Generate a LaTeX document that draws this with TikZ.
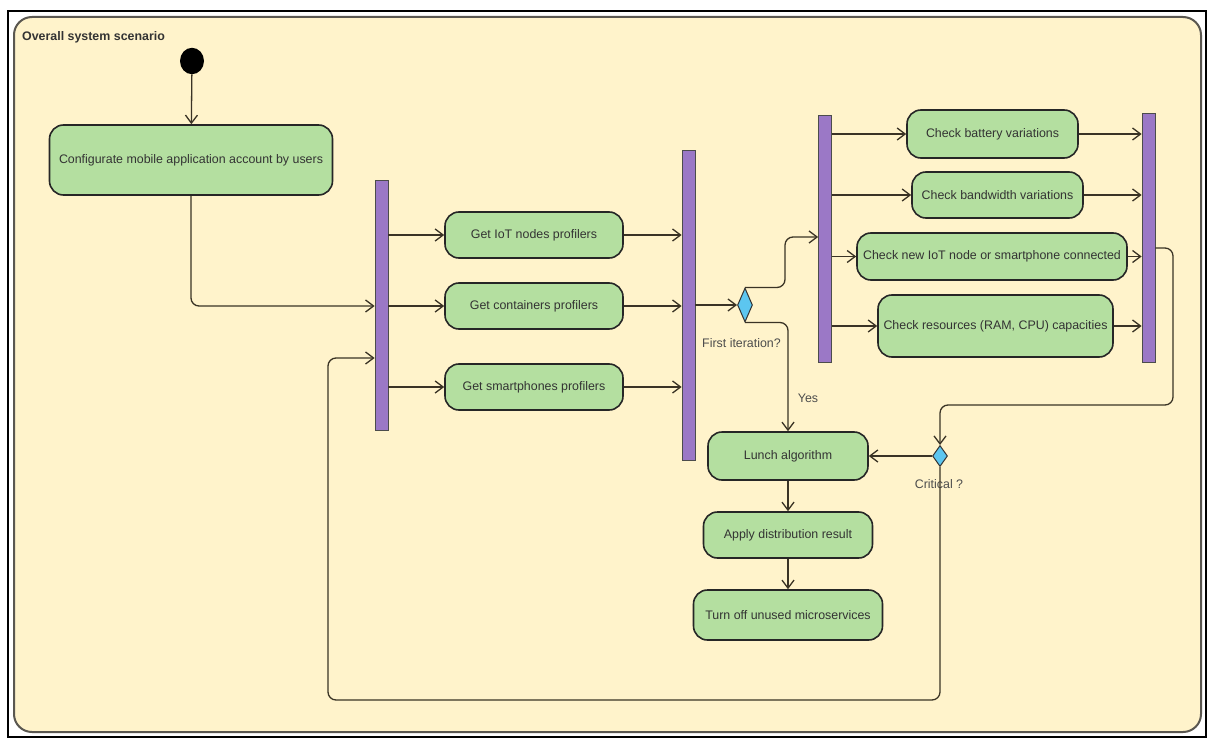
\documentclass[tikz,border=0pt]{standalone}
\usepackage{fontspec}
\setmainfont{Liberation Sans}
\usetikzlibrary{shapes.geometric,arrows.meta}
\definecolor{cream}{HTML}{FFF3CB}
\definecolor{boxgreen}{HTML}{B4DFA0}
\definecolor{barpurple}{HTML}{9B78C6}
\definecolor{diablue}{HTML}{5CC6F0}
\definecolor{linec}{HTML}{3A3325}
\definecolor{framec}{HTML}{5A5750}
\tikzset{
  act/.style={draw=black!85, line width=1.6pt, fill=boxgreen, rounded corners=14pt, inner sep=0pt,
    font=\fontsize{12.4}{14}\selectfont, text=black!80},
  bar/.style={draw=black!70, line width=0.8pt, fill=barpurple, inner sep=0pt, minimum width=13pt},
  deci/.style={diamond, draw=black!80, line width=1pt, fill=diablue, inner sep=0pt, aspect=1},
  arr/.style={draw=linec, line width=1.3pt, -{Straight Barb[length=8pt,width=12pt,line width=1.3pt]}},
  lbl/.style={font=\fontsize{12.4}{14}\selectfont, text=black!70, inner sep=0pt},
}
\begin{document}
\begin{tikzpicture}[x=1pt,y=-1pt]
\useasboundingbox (0,0) rectangle (1209,738);
\fill[white] (0,0) rectangle (1209,738);
\draw[black, line width=1.5pt] (8,11) rectangle (1206,737);
\draw[framec, line width=2pt, fill=cream, rounded corners=18pt] (14,17) rectangle (1201,732);
\node[anchor=west, inner sep=0pt, font=\fontsize{12.4}{14}\selectfont\bfseries, text=black!80] (title) at (22,37) {Overall system scenario};

% start
\node[circle, fill=black, minimum width=24pt, minimum height=24pt, inner sep=0pt, yscale=1.1] (start) at (192,61) {};

% configure
\node[act, minimum width=283pt, minimum height=70pt] (conf) at (191,160) {Configurate mobile application account by users};

% bars
\node[bar, minimum height=250pt] (bar1) at (381.5,305) {};
\node[bar, minimum height=310pt] (bar2) at (688.5,305) {};
\node[bar, minimum height=247pt] (bar3) at (825,238.5) {};
\node[bar, minimum height=249pt] (bar4) at (1148.5,237.5) {};

% get boxes
\node[act, minimum width=178pt, minimum height=46pt] (giot) at (534,235) {Get IoT nodes profilers};
\node[act, minimum width=178pt, minimum height=46pt] (gcon) at (534,306) {Get containers profilers};
\node[act, minimum width=178pt, minimum height=46pt] (gsmp) at (534,387) {Get smartphones profilers};

% decision 1
\node[deci, minimum width=15pt, minimum height=34pt] (d1) at (745,305) {};
\node[lbl, anchor=west] (fi) at (702,343) {First iteration?};
\node[lbl] (yes) at (808,398) {Yes};

% check boxes
\node[act, minimum width=171pt, minimum height=48pt] (batt) at (992.5,134) {Check battery variations};
\node[act, minimum width=171pt, minimum height=46pt] (band) at (997.5,195) {Check bandwidth variations};
\node[act, minimum width=270pt, minimum height=47pt] (newn) at (992,256.5) {Check new IoT node or smartphone connected};
\node[act, minimum width=235pt, minimum height=62pt] (res) at (995.5,326) {Check resources (RAM, CPU) capacities};

% lower column
\node[act, minimum width=160pt, minimum height=48pt] (lunch) at (788,456) {Lunch algorithm};
\node[act, minimum width=169pt, minimum height=46pt] (apply) at (788,535) {Apply distribution result};
\node[act, minimum width=189pt, minimum height=50pt] (turn) at (788,615) {Turn off unused microservices};

% decision 2
\node[deci, minimum width=15pt, minimum height=21pt] (d2) at (940,456) {};
\node[lbl] (crit) at (939,484) {Critical ?};

% helper coordinates
\coordinate (c1) at (785,237);
\coordinate (c0) at (191,306);
\coordinate (r1) at (1173,248);
\coordinate (r2) at (1173,405);
\coordinate (l1) at (940,700);
\coordinate (l2) at (328,700);
\coordinate (l3) at (328,358);

% connectors
\draw[arr] (start) -- (conf);
\draw[arr, rounded corners=8pt] (conf.south) -- (c0) -- (bar1.west |- c0);
\draw[arr, rounded corners=8pt] (d2.south) -- (l1) -- (l2) -- (l3) -- (bar1.west |- l3);

\foreach \n in {giot,gcon,gsmp}{
  \draw[arr] (bar1.east |- \n.west) -- (\n.west);
  \draw[arr] (\n.east) -- (bar2.west |- \n.east);
}
\draw[arr] (bar2.east |- d1.west) -- (d1.west);
\draw[arr, rounded corners=8pt] (d1.north) -| (c1) -- (bar3.west |- c1);
\draw[arr, rounded corners=8pt] (d1.south) -| (lunch.north);

\foreach \n in {batt,band,newn,res}{
  \draw[arr] (bar3.east |- \n.west) -- (\n.west);
  \draw[arr] (\n.east) -- (bar4.west |- \n.east);
}
\draw[arr, rounded corners=8pt] (bar4.east |- r1) -- (r1) -- (r2) -- (r2 -| d2) -- (d2.north);
\draw[arr] (d2.west) -- (lunch.east);
\draw[arr] (lunch) -- (apply);
\draw[arr] (apply) -- (turn);
\end{tikzpicture}
\end{document}
